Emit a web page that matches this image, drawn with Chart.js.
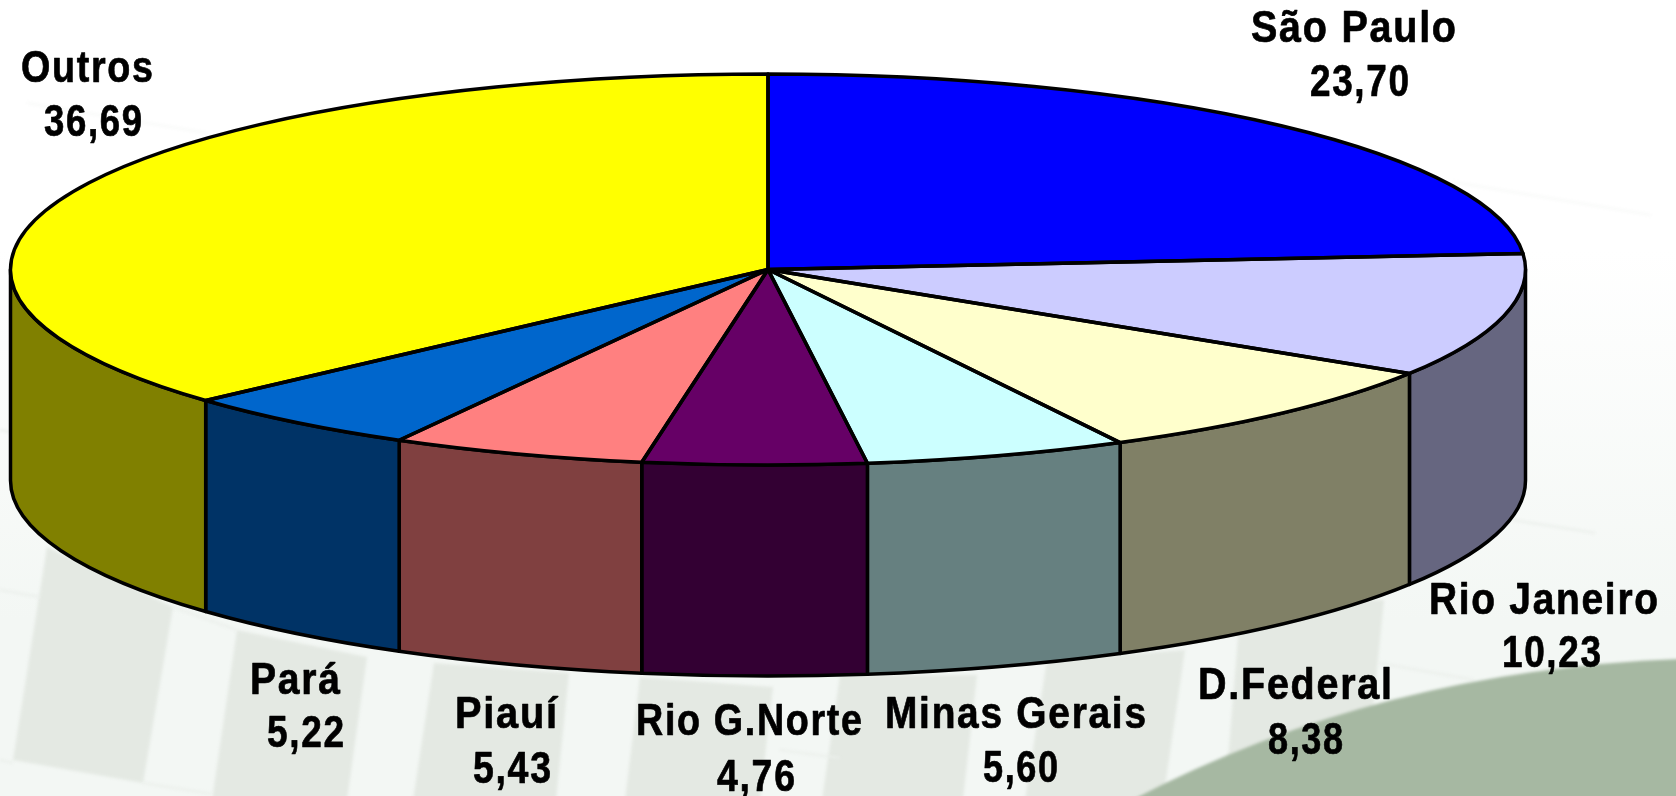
<!DOCTYPE html>
<html>
<head>
<meta charset="utf-8">
<style>
    html, body { margin: 0; padding: 0; background: #fff; overflow: hidden; }
    canvas { display: block; }
</style>
<script src="https://cdn.jsdelivr.net/npm/chart.js@4"></script>
</head>
<body>
<canvas id="estados" width="1676" height="796"></canvas>
<script>
const categories = ['São Paulo', 'Rio Janeiro', 'D.Federal', 'Minas Gerais', 'Rio G.Norte', 'Piauí', 'Pará', 'Outros'];
const values = [23.70, 10.23, 8.38, 5.60, 4.76, 5.43, 5.22, 36.69];
const topColors = ['#0000ff', '#ccccff', '#ffffcc', '#ccffff', '#660066', '#ff8080', '#0066cc', '#ffff00'];
const wallColors = ['#000080', '#666680', '#808066', '#668080', '#330033', '#804040', '#003366', '#808000'];

// pie geometry on the page: the flat library circle gets squashed to this ellipse
const pie = { cx: 768, cy: 269.5, rx: 757.5, ry: 195.5, depth: 211 };

// left, right, baseline of each label line
const nameBoxes = [[1251, 1456, 42], [1429, 1658, 614], [1198, 1392, 699], [885, 1146, 728], [636, 862, 735], [455, 557, 728], [250, 340, 694], [21, 153, 82]];
const valueBoxes = [[1310, 1409, 96], [1502, 1601, 667], [1268, 1343, 754], [983, 1058, 782], [717, 795, 791], [473, 551, 783], [267, 344, 747], [44, 142, 136]];

const bands = [
    [[47, 547], [173, 607], [143, 783], [13, 760]],
    [[237, 630], [367, 657], [347, 800], [212, 800]],
    [[434, 663], [569, 673], [556, 800], [413, 800]],
    [[640, 677], [773, 687], [760, 800], [625, 800]],
    [[840, 675], [977, 675], [963, 800], [822, 800]],
    [[1047, 660], [1185, 650], [1163, 800], [1025, 800]],
    [[1241, 600], [1384, 600], [1370, 740], [1228, 760]]
];
const upperLines = [[27, 103, 207, 133], [1453, 182, 1651, 215]];
const lowerLines = [
    [1513, 520, 1595, 533], [1379, 663, 1474, 680], [0, 430, 10, 432], [0, 590, 40, 597],
    [0, 760, 13, 763], [173, 607, 237, 630], [143, 783, 212, 794], [780, 750, 840, 758]
];

function strokeLines(ctx, lines, color) {
    ctx.strokeStyle = color;
    ctx.lineWidth = 2;
    lines.forEach(l => {
        ctx.beginPath();
        ctx.moveTo(l[0], l[1]);
        ctx.lineTo(l[2], l[3]);
        ctx.stroke();
    });
}

function drawBackground(ctx) {
    const g = ctx.createLinearGradient(0, 250, 0, 620);
    g.addColorStop(0, '#ffffff');
    g.addColorStop(1, '#f3f7f4');
    ctx.fillStyle = g;
    ctx.fillRect(0, 0, 1676, 796);

    ctx.save();
    ctx.filter = 'blur(1.5px)';
    ctx.fillStyle = '#e4e9e3';
    bands.forEach(b => {
        ctx.beginPath();
        b.forEach((p, i) => i ? ctx.lineTo(p[0], p[1]) : ctx.moveTo(p[0], p[1]));
        ctx.closePath();
        ctx.fill();
    });

    strokeLines(ctx, upperLines, '#f8f9f8');
    strokeLines(ctx, lowerLines, '#ebefeb');

    // green hill in the lower right corner
    ctx.fillStyle = '#a6b8a2';
    ctx.beginPath();
    ctx.moveTo(1132, 800);
    ctx.quadraticCurveTo(1380, 670, 1680, 659);
    ctx.lineTo(1680, 800);
    ctx.closePath();
    ctx.fill();
    ctx.restore();
}

function fitText(ctx, text, box) {
    ctx.save();
    ctx.letterSpacing = '2px';
    const w = ctx.measureText(text).width - 2;
    ctx.translate(box[0], box[2]);
    ctx.scale((box[1] - box[0]) / w, 1);
    ctx.fillText(text, 0, 0);
    ctx.strokeText(text, 0, 0);
    ctx.restore();
}

const pie3d = {
    id: 'pie3d',
    beforeDraw(chart) {
        drawBackground(chart.ctx);
    },
    beforeDatasetsDraw(chart) {
        const ctx = chart.ctx;
        const arcs = chart.getDatasetMeta(0).data;

        // side walls, only the part of each slice that faces the viewer
        ctx.save();
        ctx.lineWidth = 3.5;
        ctx.strokeStyle = '#000';
        ctx.lineJoin = 'round';
        arcs.forEach((arc, i) => {
            const a0 = Math.max(arc.startAngle, 0);
            const a1 = Math.min(arc.endAngle, Math.PI);
            if (a1 <= a0) return;
            ctx.beginPath();
            ctx.ellipse(pie.cx, pie.cy, pie.rx, pie.ry, 0, a0, a1);
            ctx.ellipse(pie.cx, pie.cy + pie.depth, pie.rx, pie.ry, 0, a1, a0, true);
            ctx.closePath();
            ctx.fillStyle = wallColors[i];
            ctx.fill();
            ctx.stroke();
        });
        ctx.restore();

        // squash what the library draws next
        const R = arcs[0].outerRadius;
        ctx.save();
        ctx.translate(pie.cx, pie.cy);
        ctx.scale(pie.rx / R, pie.ry / R);
        ctx.translate(-arcs[0].x, -arcs[0].y);
    },
    afterDatasetsDraw(chart) {
        const ctx = chart.ctx;
        ctx.restore();

        ctx.save();
        ctx.lineWidth = 3.5;
        ctx.strokeStyle = '#000';
        ctx.lineJoin = 'round';
        chart.getDatasetMeta(0).data.forEach(arc => {
            ctx.beginPath();
            ctx.moveTo(pie.cx, pie.cy);
            ctx.ellipse(pie.cx, pie.cy, pie.rx, pie.ry, 0, arc.startAngle, arc.endAngle);
            ctx.closePath();
            ctx.stroke();
        });

        ctx.fillStyle = '#000';
        ctx.lineWidth = 0.7;
        ctx.font = 'bold 45px "Liberation Sans", Arial, sans-serif';
        ctx.textBaseline = 'alphabetic';
        categories.forEach((name, i) => {
            fitText(ctx, name, nameBoxes[i]);
            fitText(ctx, values[i].toFixed(2).replace('.', ','), valueBoxes[i]);
        });
        ctx.restore();
    }
};

new Chart(document.getElementById('estados'), {
    type: 'pie',
    data: {
        labels: categories,
        datasets: [{
            data: values,
            backgroundColor: topColors,
            borderWidth: 0,
            clip: false
        }]
    },
    options: {
        responsive: false,
        animation: false,
        layout: { padding: 0 },
        plugins: {
            legend: { display: false },
            tooltip: { enabled: false }
        }
    },
    plugins: [pie3d]
});
</script>
</body>
</html>
